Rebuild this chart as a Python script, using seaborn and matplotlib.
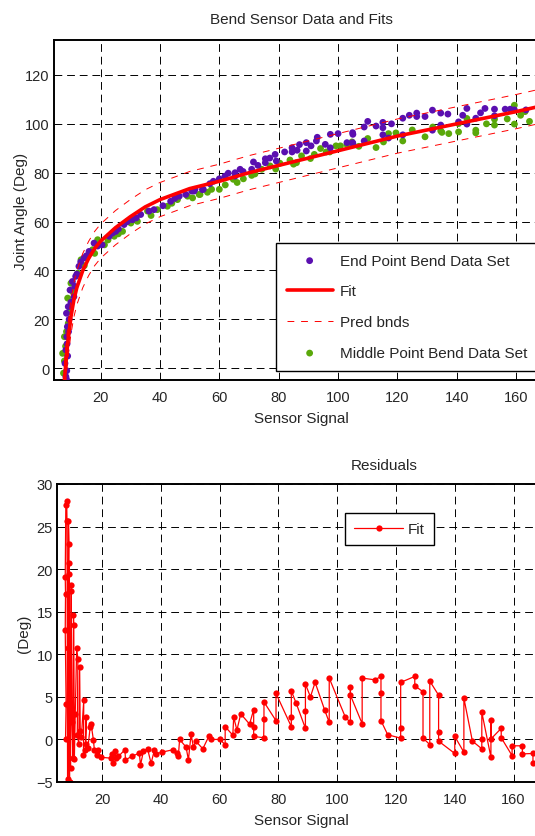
import numpy as np
import pandas as pd
import matplotlib
matplotlib.use("Agg")
import matplotlib.pyplot as plt
import seaborn as sns

## Data
# End point bend data set (purple)
end_x = [8.3, 8.5, 8.0, 8.3, 8.6, 8.8, 8.5, 9.1, 9.7, 11.0, 11.3, 10.5, 11.6, 12.7, 14.4, 16.1,
         17.8, 22.9, 24.0, 25.1, 27.9, 30.7, 33.5, 36.3, 38.0, 43.6, 46.5, 48.7, 51.5, 54.3,
         50.7, 51.8, 54.6, 56.8, 61.9, 65.3, 65.3, 67.0, 70.9, 71.5, 75.5, 75.5, 78.8, 79.2,
         84.5, 86.2, 84.5, 89.3, 89.3, 90.9, 92.7, 95.7, 97.4, 97.4, 103.0, 104.9, 104.9,
         105.0, 105.0, 108.8, 108.8, 112.8, 115.1, 115.1, 115.1, 117.0, 121.8, 121.8, 126.5,
         126.5, 129.3, 131.8, 131.8, 134.6, 134.6, 140.6, 143.4, 143.4, 146.4, 149.5, 152.7,
         152.7, 156.3, 159.4, 163.3,
         8.6, 8.9, 8.7, 9.2, 9.4, 10.0, 12.0, 13.3, 15.2, 19.0, 20.5, 26.0, 29.0, 32.0, 41.0,
         45.0, 58.0, 60.0, 63.0, 68.0, 73.0, 77.0, 82.0, 87.0, 93.0, 100.0, 110.0, 118.0,
         124.0, 137.0, 142.0, 148.0, 158.0]
end_y = [-3.4, -4.5, 2.0, 7.5, 12.9, 17.0, 22.5, 25.2, 32.0, 29.3, 33.5, 35.5, 37.6, 41.7, 45.1,
         47.8, 51.2, 54.0, 55.3, 56.0, 58.8, 60.8, 62.9, 64.3, 64.9, 68.3, 70.4, 71.1, 72.5,
         73.1, 72.5, 73.2, 73.2, 75.5, 78.6, 80.0, 78.6, 81.4, 81.4, 84.4, 84.1, 85.7, 87.5,
         84.8, 90.2, 89.2, 88.5, 92.3, 88.9, 91.0, 93.0, 91.6, 95.7, 90.2, 92.3, 96.4, 92.3,
         95.7, 91.9, 98.7, 93.0, 99.1, 100.6, 98.4, 95.5, 94.2, 102.3, 95.5, 104.4, 103.0,
         103.0, 105.6, 97.4, 104.4, 99.5, 100.8, 106.3, 99.9, 102.3, 106.3, 106.0, 103.3,
         106.0, 105.7, 105.7,
         -1.0, 5.0, 10.0, 15.0, 20.0, 27.0, 38.5, 43.5, 46.0, 50.0, 50.5, 57.0, 60.0, 61.5,
         66.5, 69.5, 76.5, 77.5, 79.8, 80.5, 83.0, 86.0, 88.5, 91.5, 94.5, 96.0, 101.0, 100.0,
         103.5, 104.0, 103.5, 104.5, 106.0]

# Middle point bend data set (green)
mid_x = [7.5, 7.2, 7.8, 9.1, 8.9, 10.0, 12.3, 13.4, 15.6, 17.3, 19.0, 21.3, 24.6, 27.4, 30.2,
         32.4, 35.8, 39.1, 42.5, 45.9, 49.3, 53.2, 51.0, 53.5, 57.4, 60.0, 64.7, 68.1, 70.9,
         74.3, 77.1, 80.4, 83.8, 86.0, 87.7, 90.7, 94.1, 97.2, 99.3, 100.8, 104.7, 107.0,
         112.8, 115.3, 119.5, 121.8, 129.3, 131.9, 134.6, 137.3, 140.6, 140.6, 143.4, 146.4,
         146.4, 152.7, 152.7, 159.4, 159.4, 161.5, 164.5,
         7.8, 8.2, 8.5, 9.5, 10.8, 14.5, 18.0, 22.5, 26.0, 37.0, 44.0, 56.0, 62.0, 66.0, 72.0,
         79.0, 85.0, 92.0, 96.0, 103.0, 110.0, 117.0, 125.0, 135.0, 150.0, 157.0, 163.0]
mid_y = [-2.0, 6.1, 12.9, 18.4, 28.7, 34.8, 38.9, 44.4, 45.8, 48.5, 52.6, 50.5, 54.0, 56.0,
         59.4, 60.1, 64.3, 64.9, 66.3, 69.0, 70.4, 71.1, 69.7, 71.1, 73.2, 73.2, 77.3, 77.5,
         78.9, 81.4, 82.8, 83.9, 85.2, 84.1, 86.9, 85.8, 89.9, 88.5, 91.0, 91.0, 92.6, 90.8,
         90.3, 92.6, 96.3, 93.0, 94.7, 98.7, 97.1, 96.0, 96.7, 100.1, 102.2, 97.4, 96.3, 99.5,
         101.9, 107.6, 99.9, 103.5, 101.0,
         3.0, 9.0, 15.0, 23.0, 31.0, 42.0, 47.0, 52.5, 55.0, 62.5, 67.5, 72.0, 75.0, 76.0, 79.5,
         81.5, 83.5, 87.5, 88.5, 91.5, 94.0, 96.0, 97.5, 96.5, 100.0, 102.0, 105.0]

# Fit curve and prediction bounds
fit_x = [7.8, 8.5, 9, 10, 11, 12, 14, 16, 18, 20, 25, 30, 35, 40, 50, 60, 70, 80, 90, 100,
         110, 120, 130, 140, 150, 160, 171]
fit_y = [-5, 5, 11, 21, 28, 33, 40, 45, 49, 52, 57.5, 62, 66, 69, 73.5, 76.5, 80, 83, 86, 89,
         92, 95, 97.5, 100, 102.5, 105, 108]
upper_y = [2, 12, 18, 28, 35, 40, 47, 52, 56, 59, 64.5, 69, 73, 76, 80.5, 83.5, 87, 90, 93,
           96, 99, 102, 104.5, 107, 109.5, 112, 115]
lower_y = [-12, -2, 4, 14, 21, 26, 33, 38, 42, 45, 50.5, 55, 59, 62, 66.5, 69.5, 73, 76, 79,
           82, 85, 88, 90.5, 93, 95.5, 98, 101]

# Residuals, in data order
res_x = [7.6, 7.8, 7.5, 7.6, 7.5, 7.7, 8.0, 8.1, 8.3, 8.5, 8.6, 8.8, 8.4, 9.0, 8.9, 8.9, 9.1,
         9.3, 9.6, 9.5, 9.8, 10.1, 10.3, 10.4, 10.6, 10.9, 11.4, 11.8, 11.6, 12.1, 12.4, 12.6,
         13.0, 13.8, 13.7, 14.3, 14.6, 14.5, 15.2, 16.0, 16.3, 17.1, 17.4, 18.2, 18.5, 19.7,
         23.1, 23.5, 23.6, 24.3, 24.8, 25.6, 27.8, 28.0, 30.1, 32.7, 33.1, 34.1, 35.5, 36.7,
         37.8, 38.4, 40.3, 44.3, 45.5, 46.0, 46.4, 48.6, 49.4, 50.3, 51.1, 51.9, 54.3, 56.4,
         57.2, 60.0, 61.9, 61.9, 64.5, 64.8, 65.9, 67.2, 70.2, 71.6, 71.6, 71.6, 75.0, 75.1,
         75.1, 79.2, 79.2, 84.4, 84.4, 84.4, 86.0, 89.2, 89.2, 89.2, 90.9, 92.5, 95.7, 97.3,
         97.3, 102.8, 104.5, 104.5, 104.5, 108.5, 108.5, 112.9, 114.9, 114.9, 114.9, 117.2,
         121.6, 121.6, 121.6, 126.4, 126.4, 129.2, 129.2, 131.5, 131.5, 134.5, 134.5, 134.5,
         140.0, 140.0, 143.1, 143.1, 146.0, 149.2, 149.2, 149.2, 152.3, 152.3, 152.3, 155.8,
         155.8, 159.5, 159.5, 163.0, 163.0, 166.6, 166.6]
res_y = [0.0, 4.2, 12.8, 17.1, 19.1, 27.5, 28.0, 25.6, -4.6, 10.7, 25.7, 22.9, -5.0, -5.0,
         20.7, 19.4, 3.0, -3.3, 18.1, 17.4, 2.0, -2.2, 14.6, 13.4, -2.3, 3.0, 10.7, 9.5, 0.5,
         -0.5, 8.5, 1.0, 0.3, 4.6, -1.8, -1.3, 2.6, -0.5, -1.0, 1.5, 1.8, -0.1, -1.2, -1.8,
         -1.2, -2.1, -2.2, -1.7, -2.8, -1.4, -2.2, -2.0, -1.2, -2.4, -2.0, -1.6, -3.0, -1.4,
         -1.1, -2.8, -1.3, -1.7, -1.5, -1.2, -1.6, -1.9, 0.0, -0.9, -2.4, 0.6, -0.9, -0.2,
         -1.1, 0.4, 0.0, 0.0, -0.6, 1.5, 0.5, 2.6, 1.1, 3.0, 1.8, 3.5, 1.5, 0.35, 0.2, 2.4,
         4.4, 2.2, 5.4, 1.5, 2.6, 5.7, 4.3, 1.3, 3.3, 6.5, 5.0, 6.7, 3.5, 2.0, 7.2, 2.6, 2.0,
         6.1, 5.2, 1.85, 7.2, 7.0, 7.4, 5.4, 2.2, 0.55, 0.15, 1.3, 6.7, 7.4, 6.3, 5.6, 0.15,
         -0.6, 6.85, 5.2, 0.9, -0.2, -1.65, 0.35, -1.5, 4.85, -0.2, -1.1, 0.05, 3.2, -2.1,
         2.3, 0.05, 1.3, 0.2, -1.9, -0.75, -0.75, -1.7, -1.65, -2.8]

x_ticks = [20, 40, 60, 80, 100, 120, 140, 160]
top_y_ticks = [0, 20, 40, 60, 80, 100, 120]
res_y_ticks = [-5, 0, 5, 10, 15, 20, 25, 30]

purple = "#5a0fb0"
green = "#5aa80a"
red = "#ff0000"

## Style
sns.set_style("white")
plt.rcParams['font.family'] = ['Liberation Sans', 'DejaVu Sans']
plt.rcParams['axes.linewidth'] = 1.4

fig = plt.figure(figsize=(5.35, 8.37), dpi=100)
ax1 = fig.add_axes([54 / 535, 1 - 381 / 837, 494.8 / 535, 340 / 837])
ax2 = fig.add_axes([57 / 535, 1 - 783 / 837, 488.9 / 535, 298 / 837])

grid_kw = dict(color="black", linestyle=(0, (8, 5)), linewidth=0.7)

## Top: data and fits
sns.scatterplot(x=mid_x, y=mid_y, ax=ax1, color=green, s=24, edgecolor="none",
                label="Middle Point Bend Data Set", zorder=3)
sns.scatterplot(x=end_x, y=end_y, ax=ax1, color=purple, s=24, edgecolor="none",
                label="End Point Bend Data Set", zorder=4)
sns.lineplot(x=fit_x, y=fit_y, ax=ax1, color=red, linewidth=2.6, label="Fit",
             estimator=None, sort=False, zorder=5)
sns.lineplot(x=fit_x, y=upper_y, ax=ax1, color=red, linewidth=0.7, linestyle=(0, (7, 7)),
             label="Pred bnds", estimator=None, sort=False, zorder=5)
sns.lineplot(x=fit_x, y=lower_y, ax=ax1, color=red, linewidth=0.7, linestyle=(0, (7, 7)),
             label="_nolegend_", estimator=None, sort=False, zorder=5)

ax1.set_xlim(4.3, 171)
ax1.set_ylim(-4.8, 134.3)
ax1.set_xticks(x_ticks)
ax1.set_yticks(top_y_ticks)
ax1.grid(True, **grid_kw)
ax1.set_title("Bend Sensor Data and Fits", fontsize=11, pad=12)
ax1.set_xlabel("Sensor Signal", fontsize=11, labelpad=5)
ax1.set_ylabel("Joint Angle (Deg)", fontsize=11, labelpad=-2)

handles, labels = ax1.get_legend_handles_labels()
order = ["End Point Bend Data Set", "Fit", "Pred bnds", "Middle Point Bend Data Set"]
hmap = dict(zip(labels, handles))
leg1 = ax1.legend([hmap[l] for l in order], order, loc="upper left",
                  bbox_to_anchor=(0.4487, 0.403), fontsize=11, frameon=True,
                  fancybox=False, edgecolor="black", framealpha=1, borderpad=0.7,
                  labelspacing=1.1, handlelength=3.0, handletextpad=0.5, borderaxespad=0)
leg1.get_frame().set_linewidth(1.0)

## Bottom: residuals
sns.lineplot(x=res_x, y=res_y, ax=ax2, color=red, linewidth=0.9, marker="o", markersize=4.5,
             markeredgewidth=0, estimator=None, sort=False, label="Fit")
ax2.set_xlim(4.7, 171)
ax2.set_ylim(-5, 30)
ax2.set_xticks(x_ticks)
ax2.set_yticks(res_y_ticks)
ax2.grid(True, **grid_kw)
ax2.set_title("Residuals", fontsize=11, pad=11, x=0.669)
ax2.set_xlabel("Sensor Signal", fontsize=11, labelpad=5)
ax2.set_ylabel("(Deg)", fontsize=11, labelpad=4)
leg2 = ax2.legend(loc="upper left", bbox_to_anchor=(0.589, 0.9027), fontsize=11,
                  frameon=True, fancybox=False, edgecolor="black", framealpha=1,
                  borderpad=0.6, handlelength=3.2, handletextpad=0.3, borderaxespad=0)
leg2.get_frame().set_linewidth(1.0)

for ax in (ax1, ax2):
    ax.tick_params(axis="both", labelsize=10.5, direction="in", length=4)
    ax.tick_params(axis="x", pad=7)
    ax.tick_params(axis="y", pad=3)
    ax.set_axisbelow(True)
    for side in ("left", "bottom", "top"):
        ax.spines[side].set_color("black")

fig.savefig("out.png", dpi=100, facecolor="white")
